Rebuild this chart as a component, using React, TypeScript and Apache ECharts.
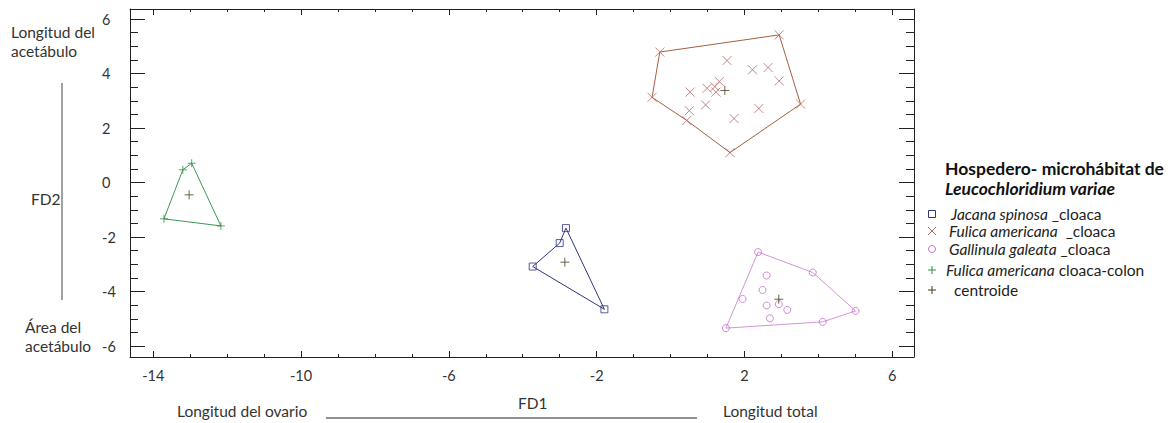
import React, { useEffect, useRef } from "react";
import * as echarts from "echarts";

// ---- axis ticks / labels ----
const xMajor = [-14, -10, -6, -2, 2, 6];
const xMinor = [-14, -13, -12, -11, -10, -9, -8, -7, -6, -5, -4, -3, -2, -1, 0, 1, 2, 3, 4, 5, 6];
const yMajor = [-6, -4, -2, 0, 2, 4, 6];
const yMinor = [-6, -5.5, -5, -4.5, -4, -3.5, -3, -2.5, -2, -1.5, -1, -0.5, 0, 0.5, 1, 1.5, 2, 2.5, 3, 3.5, 4, 4.5, 5, 5.5, 6];
const xRange = [-14.63, 6.59];
const yRange = [-6.4, 6.37];

// ---- Jacana spinosa _cloaca ----
const jacanaX = [-2.83, -3.0, -3.73, -1.79];
const jacanaY = [-1.67, -2.22, -3.08, -4.65];
const jacanaHull = [0, 3, 2, 1, 0];

// ---- Fulica americana _cloaca ----
const fulicaX = [-0.29, 2.94, -0.5, 3.52, 1.61, 0.44, 1.53, 2.22, 2.64, 2.94, 0.53, 0.99, 1.32, 1.2, 1.23, 0.51, 0.95, 1.72, 2.39];
const fulicaY = [4.79, 5.42, 3.13, 2.88, 1.1, 2.28, 4.48, 4.14, 4.22, 3.73, 3.32, 3.46, 3.71, 3.52, 3.32, 2.64, 2.85, 2.35, 2.72];
const fulicaHull = [0, 1, 3, 4, 5, 2, 0];

// ---- Gallinula galeata _cloaca ----
const gallinulaX = [2.37, 3.85, 2.6, 2.49, 1.95, 2.6, 2.93, 3.16, 2.69, 5.01, 4.12, 1.5];
const gallinulaY = [-2.55, -3.3, -3.41, -3.94, -4.27, -4.51, -4.46, -4.67, -4.98, -4.71, -5.11, -5.34];
const gallinulaHull = [11, 0, 1, 9, 10, 11];

// ---- Fulica americana cloaca-colon ----
const colonX = [-12.96, -13.2, -13.71, -12.17];
const colonY = [0.71, 0.47, -1.33, -1.59];
const colonHull = [0, 3, 2, 1, 0];

// ---- centroides ----
const centroidX = [-2.86, 1.47, 2.93, -13.03];
const centroidY = [-2.92, 3.38, -4.28, -0.45];

const FONT = "Lato";
const TXT = "#333";
const XPATH = "path://M0,0L10,10M10,0L0,10";
const PLUSPATH = "path://M5,0L5,10M0,5L10,5";

const C_BLUE = "#2e3582";
const C_RED = "#b86a6a";
const C_RED_HULL = "#a5603f";
const C_PINK = "#c36bd0";
const C_PINK_HULL = "#d493dc";
const C_GREEN = "#2f8f46";
const C_GREEN_HULL = "#3b9a52";
const C_CENT = "#4a3b22";

function pts(xs: number[], ys: number[]) {
  return xs.map((x, i) => [x, ys[i]]);
}
function hull(xs: number[], ys: number[], idx: number[]) {
  return idx.map((i) => [xs[i], ys[i]]);
}

function xAxis(position: string, values: number[], len: number, label: boolean, line: boolean) {
  return {
    type: "value",
    position,
    min: xRange[0],
    max: xRange[1],
    splitLine: { show: false },
    axisLine: { show: line, onZero: false, lineStyle: { color: "#222", width: 1 } },
    axisTick: { show: true, inside: true, length: len, customValues: values, lineStyle: { color: "#222" } },
    axisLabel: label
      ? { show: true, customValues: values, fontFamily: FONT, fontSize: 14.5, color: TXT, margin: 11 }
      : { show: false },
  };
}
function yAxis(position: string, values: number[], len: number, label: boolean, line: boolean) {
  return {
    type: "value",
    position,
    min: yRange[0],
    max: yRange[1],
    splitLine: { show: false },
    axisLine: { show: line, onZero: false, lineStyle: { color: "#222", width: 1 } },
    axisTick: { show: true, inside: true, length: len, customValues: values, lineStyle: { color: "#222" } },
    axisLabel: label
      ? { show: true, customValues: values, fontFamily: FONT, fontSize: 14.5, color: TXT, margin: 28, align: "left" }
      : { show: false },
  };
}

function hullSeries(name: string, data: number[][], color: string) {
  return {
    name,
    type: "line",
    data,
    showSymbol: false,
    silent: true,
    lineStyle: { color, width: 1 },
    z: 1,
  };
}

function txt(text: string, x: number, y: number, extra: any = {}) {
  return {
    type: "text",
    x,
    y,
    style: {
      text,
      fontFamily: FONT,
      fontSize: 15.5,
      fill: TXT,
      verticalAlign: "middle",
      ...extra,
    },
  };
}

const legendRows = [
  { y: 214, tx: 951, text: "{i|Jacana spinosa} _cloaca" },
  { y: 231, tx: 949, text: "{i|Fulica americana}  _cloaca" },
  { y: 249, tx: 949, text: "{i|Gallinula galeata} _cloaca" },
  { y: 270, tx: 946, text: "{i|Fulica americana} cloaca-colon" },
  { y: 290, tx: 946, text: "  centroide" },
];

export default function App() {
  const ref = useRef<HTMLDivElement>(null);
  useEffect(() => {
    const chart = echarts.init(ref.current!, null, { renderer: "svg" });
    const sx = 932;
    const LFS = 15.5;
    const graphic: any[] = [
      // left annotations
      txt("Longitud del", 11, 32),
      txt("acetábulo", 11, 51),
      { type: "line", shape: { x1: 62, y1: 83, x2: 62, y2: 300 }, style: { stroke: "#444", lineWidth: 1 } },
      txt("FD2", 31, 199),
      txt("Área del", 25, 327),
      txt("acetábulo", 25, 346),
      // bottom annotations
      txt("Longitud del ovario", 177, 411),
      { type: "line", shape: { x1: 326, y1: 418, x2: 697, y2: 418 }, style: { stroke: "#222", lineWidth: 1 } },
      txt("FD1", 518, 403),
      txt("Longitud total", 723, 411),
      // legend title
      txt("Hospedero- microhábitat de", 945, 168, { fontWeight: "bold", fill: "#111", fontSize: 17.5 }),
      txt("Leucochloridium variae", 945, 188, { fontWeight: "bold", fontStyle: "italic", fill: "#111", fontSize: 17.5 }),
      // legend symbols
      { type: "rect", shape: { x: sx - 3.5, y: legendRows[0].y - 3.5, width: 7, height: 7 }, style: { fill: "none", stroke: C_BLUE, lineWidth: 1 } },
      { type: "line", shape: { x1: sx - 4, y1: legendRows[1].y - 4, x2: sx + 4, y2: legendRows[1].y + 4 }, style: { stroke: C_RED, lineWidth: 1 } },
      { type: "line", shape: { x1: sx + 4, y1: legendRows[1].y - 4, x2: sx - 4, y2: legendRows[1].y + 4 }, style: { stroke: C_RED, lineWidth: 1 } },
      { type: "circle", shape: { cx: sx, cy: legendRows[2].y, r: 3.5 }, style: { fill: "none", stroke: C_PINK, lineWidth: 1 } },
      { type: "line", shape: { x1: sx - 4, y1: legendRows[3].y, x2: sx + 4, y2: legendRows[3].y }, style: { stroke: C_GREEN, lineWidth: 1 } },
      { type: "line", shape: { x1: sx, y1: legendRows[3].y - 4, x2: sx, y2: legendRows[3].y + 4 }, style: { stroke: C_GREEN, lineWidth: 1 } },
      { type: "line", shape: { x1: sx - 4, y1: legendRows[4].y, x2: sx + 4, y2: legendRows[4].y }, style: { stroke: C_CENT, lineWidth: 1 } },
      { type: "line", shape: { x1: sx, y1: legendRows[4].y - 4, x2: sx, y2: legendRows[4].y + 4 }, style: { stroke: C_CENT, lineWidth: 1 } },
      ...legendRows.map((r) => ({
        type: "text",
        x: r.tx,
        y: r.y,
        style: {
          text: r.text,
          fontFamily: FONT,
          fontSize: LFS,
          fill: "#222",
          verticalAlign: "middle",
          rich: { i: { fontStyle: "italic", fontFamily: FONT, fontSize: LFS, fill: "#222" } },
        },
      })),
    ];

    chart.setOption({
      animation: false,
      backgroundColor: "#fff",
      grid: { left: 130, right: 258, top: 9, bottom: 66, containLabel: false },
      xAxis: [
        xAxis("bottom", xMajor, 6, true, true),
        xAxis("bottom", xMinor, 3, false, false),
        xAxis("top", xMajor, 6, false, true),
        xAxis("top", xMinor, 3, false, false),
      ],
      yAxis: [
        yAxis("left", yMajor, 15, true, true),
        yAxis("left", yMinor, 8, false, false),
        yAxis("right", yMajor, 15, false, true),
        yAxis("right", yMinor, 8, false, false),
      ],
      series: [
        hullSeries("hull-jacana", hull(jacanaX, jacanaY, jacanaHull), C_BLUE),
        hullSeries("hull-fulica", hull(fulicaX, fulicaY, fulicaHull), C_RED_HULL),
        hullSeries("hull-gallinula", hull(gallinulaX, gallinulaY, gallinulaHull), C_PINK_HULL),
        hullSeries("hull-colon", hull(colonX, colonY, colonHull), C_GREEN_HULL),
        {
          name: "Jacana spinosa _cloaca",
          type: "scatter",
          data: pts(jacanaX, jacanaY),
          symbol: "rect",
          symbolSize: 7,
          itemStyle: { color: "rgba(255,255,255,0)", borderColor: C_BLUE, borderWidth: 1 },
          z: 3,
        },
        {
          name: "Fulica americana _cloaca",
          type: "scatter",
          data: pts(fulicaX, fulicaY),
          symbol: XPATH,
          symbolSize: 9,
          itemStyle: { color: "rgba(255,255,255,0)", borderColor: C_RED, borderWidth: 1 },
          z: 3,
        },
        {
          name: "Gallinula galeata _cloaca",
          type: "scatter",
          data: pts(gallinulaX, gallinulaY),
          symbol: "circle",
          symbolSize: 7,
          itemStyle: { color: "rgba(255,255,255,0)", borderColor: C_PINK, borderWidth: 1 },
          z: 3,
        },
        {
          name: "Fulica americana cloaca-colon",
          type: "scatter",
          data: pts(colonX, colonY),
          symbol: PLUSPATH,
          symbolSize: 8,
          itemStyle: { color: "rgba(255,255,255,0)", borderColor: C_GREEN, borderWidth: 1 },
          z: 3,
        },
        {
          name: "centroide",
          type: "scatter",
          data: pts(centroidX, centroidY),
          symbol: PLUSPATH,
          symbolSize: 9,
          itemStyle: { color: "rgba(255,255,255,0)", borderColor: C_CENT, borderWidth: 1 },
          z: 4,
        },
      ],
      graphic,
    });
    return () => chart.dispose();
  }, []);
  return <div ref={ref} style={{ position: "fixed", left: 0, top: 0, width: 1172, height: 423 }} />;
}
